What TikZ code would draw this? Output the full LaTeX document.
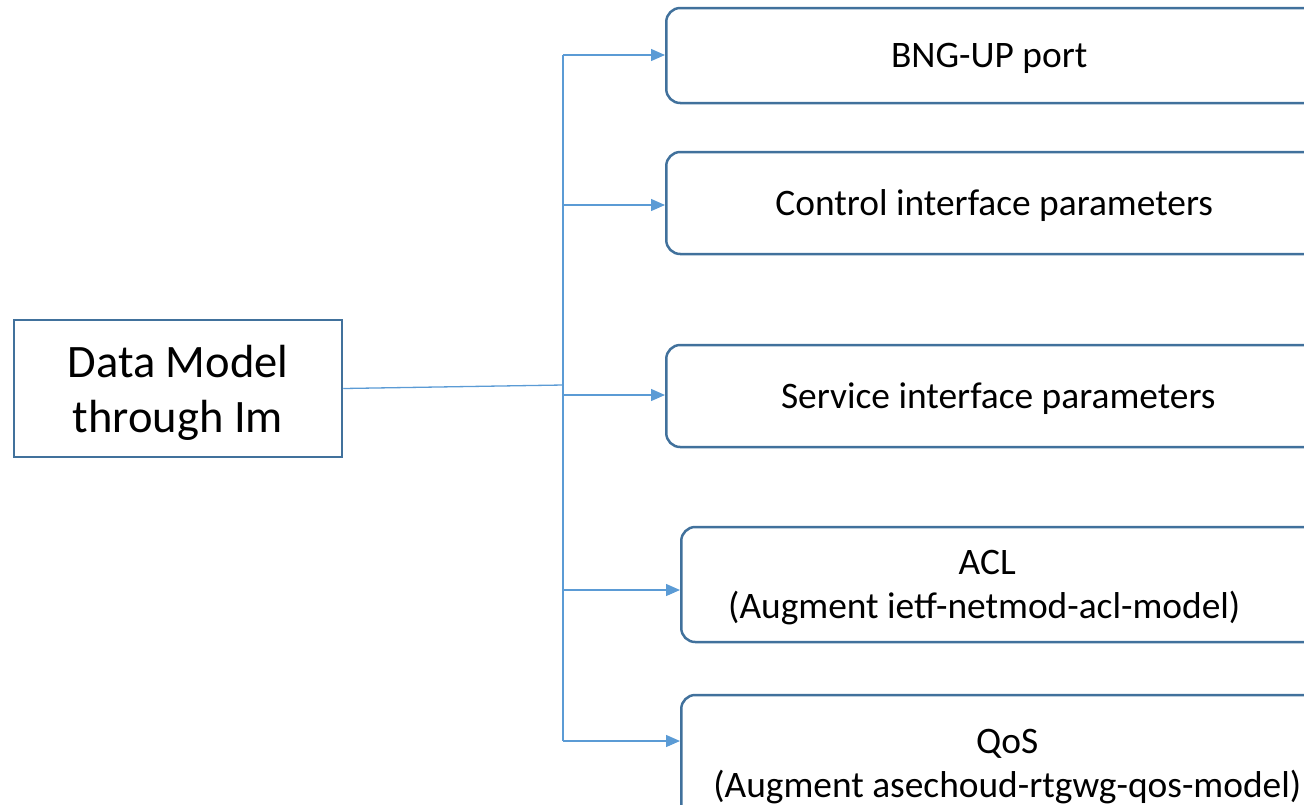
\documentclass[tikz,border=0pt]{standalone}
\usepackage{fontspec}
\setmainfont{Carlito}
\usetikzlibrary{arrows.meta}
\definecolor{boxblue}{HTML}{41719C}
\definecolor{lineblue}{HTML}{5B9BD5}
\begin{document}
\begin{tikzpicture}[x=1pt, y=-1pt,
  item/.style={draw=boxblue, line width=2.5pt, rounded corners=14pt, anchor=west,
    align=center, inner sep=0pt, text depth=-4pt, font=\fontsize{37.4}{44}\selectfont},
  link/.style={draw=lineblue, line width=1.3pt},
  feed/.style={link, -{Triangle[length=14pt, width=12pt]}}]
  \clip (0,0) rectangle (1304,804);

  % Root box
  \node[draw=boxblue, line width=2.5pt, minimum width=328pt, minimum height=137pt,
    align=center, text depth=-10pt, font=\fontsize{46.5}{55}\selectfont] (dm) at (178,388.5) {Data Model\\through Im};

  % Boxes on the right
  \node[item, text depth=-12pt, minimum width=655pt, minimum height=95pt] (port) at (665,55.5) {\hspace*{-9pt}BNG-UP port};
  \node[item, minimum width=656pt, minimum height=102pt] (ctrl) at (665,203)  {Control interface parameters};
  \node[item, minimum width=664pt, minimum height=102pt] (serv) at (665,396)  {Service interface parameters};
  \node[item, minimum width=640pt, minimum height=115pt] (acl)  at (680,584.5)
    {\hspace*{-28pt}ACL\\\hspace*{-34pt}(Augment ietf-netmod-acl-model)};
  \node[item, minimum width=652pt, minimum height=136pt] (qos)  at (680,763)  {QoS\\(Augment asechoud-rtgwg-qos-model)};

  % Junctions on the spine
  \coordinate (hub) at (563,385);
  \coordinate (j1) at (563,55);
  \coordinate (j2) at (563,205);
  \coordinate (j3) at (563,395);
  \coordinate (j4) at (563,590);
  \coordinate (j5) at (563,741);

  % Connectors
  \draw[link] (dm.east) -- (hub);
  \draw[link] (j1) -- (j5);
  \foreach \j/\b in {j1/port, j2/ctrl, j3/serv, j4/acl, j5/qos}
    \draw[feed] (\j) -- (\j -| \b.west);
\end{tikzpicture}
\end{document}
